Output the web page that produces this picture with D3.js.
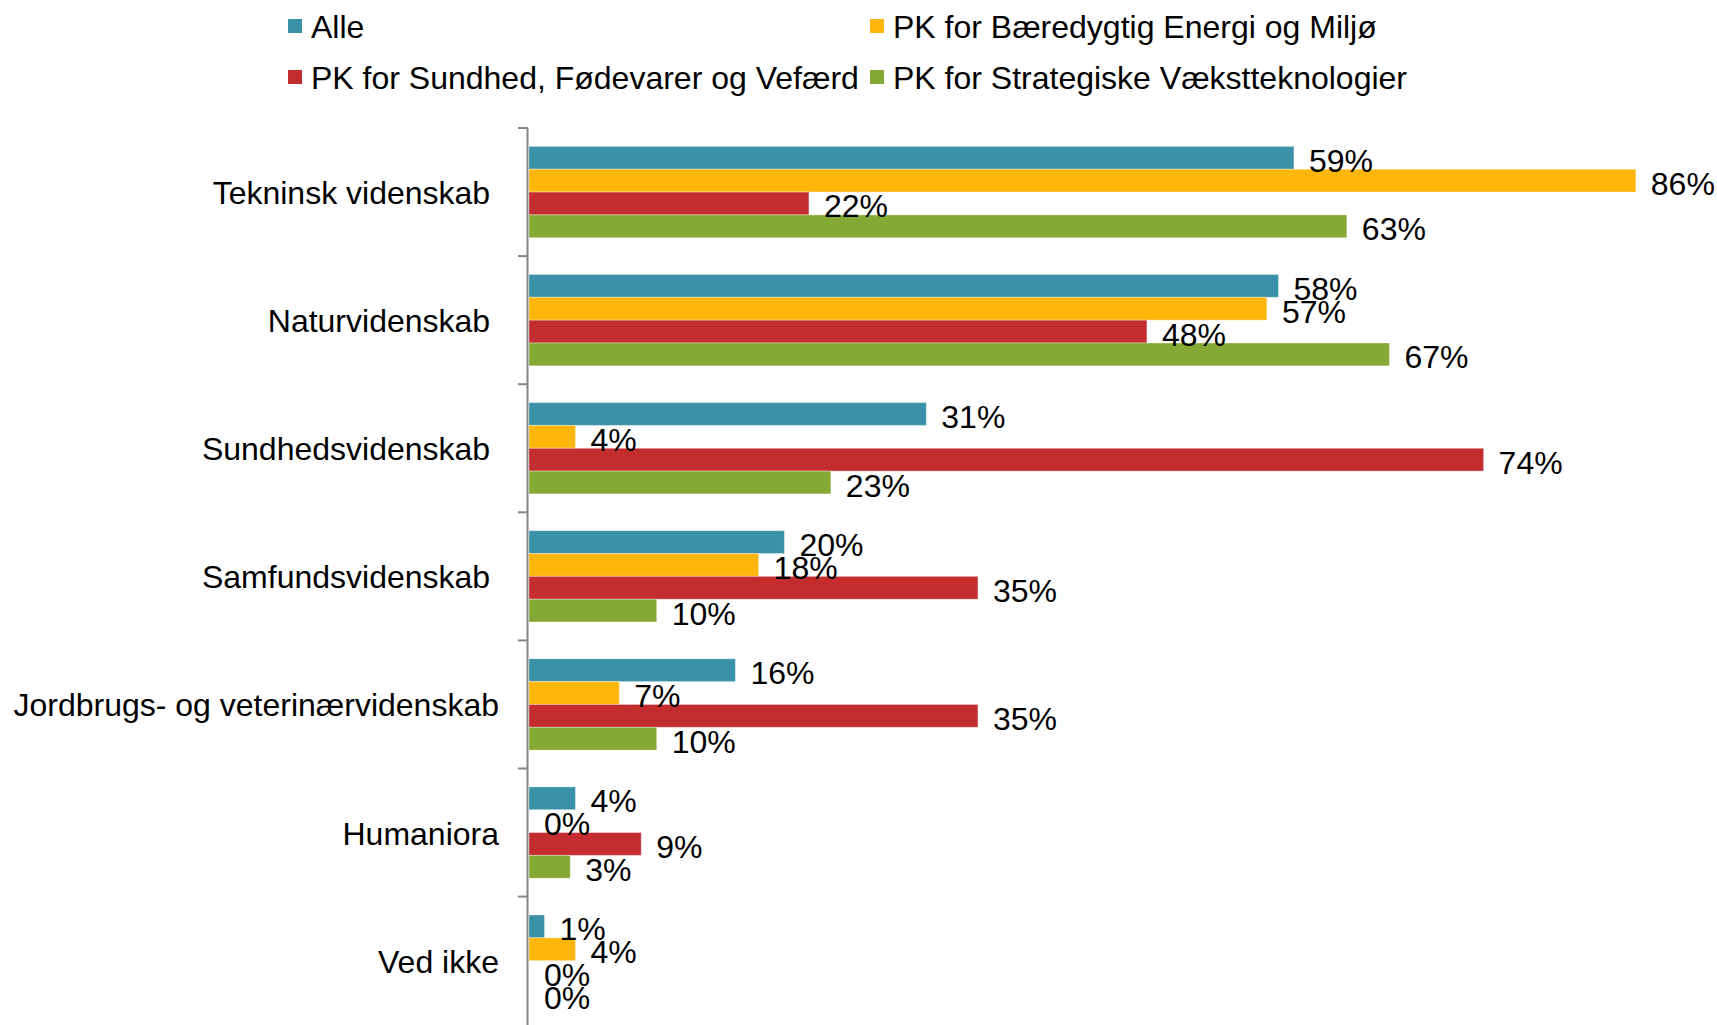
<!DOCTYPE html>
<html>
<head>
<meta charset="utf-8">
<script src="https://cdn.jsdelivr.net/npm/d3@7/dist/d3.min.js"></script>
<style>
  html, body { margin: 0; padding: 0; background: #fff; }
  svg { display: block; }
  text { font-family: "Liberation Sans", Arial, Helvetica, sans-serif; fill: #000; white-space: pre; }
</style>
</head>
<body>
<svg id="chart" width="1717" height="1025"></svg>
<script>
// Categories (trailing spaces as in the original labels)
const categories = [
  "Tekninsk videnskab ",
  "Naturvidenskab ",
  "Sundhedsvidenskab ",
  "Samfundsvidenskab ",
  "Jordbrugs- og veterinærvidenskab",
  "Humaniora",
  "Ved ikke"
];

const seriesNames = [
  "Alle",
  "PK for Bæredygtig Energi og Miljø",
  "PK for Sundhed, Fødevarer og Vefærd",
  "PK for Strategiske Vækstteknologier"
];

const seriesColors = ["#3A91A8", "#FFB60B", "#C42D2F", "#86A935"];

// Values in percent, one array per series, in category order
const alle        = [59.3, 58.1, 30.8, 19.8, 16.0, 3.6, 1.2];
const baeredygtig = [85.8, 57.2, 3.6, 17.8, 7.0, 0, 3.6];
const sundhed     = [21.7, 47.9, 74.0, 34.8, 34.8, 8.7, 0];
const strategisk  = [63.4, 66.7, 23.4, 9.9, 9.9, 3.2, 0];

const seriesValues = [alle, baeredygtig, sundhed, strategisk];

const svg = d3.select("#chart");
const FS = 32;

const x = d3.scaleLinear().domain([0, 100]).range([529, 1819]);
const y = d3.scaleBand().domain(categories).range([128, 1024.7]).padding(0);
const bw = y.bandwidth();
const yInner = d3.scaleBand().domain(seriesNames)
  .range([bw * 0.1435, bw * 0.8565]).padding(0);

const cells = [];
categories.forEach((c, ci) => {
  seriesNames.forEach((s, si) => {
    cells.push({cat: c, series: s, si, value: seriesValues[si][ci]});
  });
});

// Bars
svg.append("g").selectAll("rect")
  .data(cells)
  .join("rect")
  .attr("x", x(0))
  .attr("y", d => y(d.cat) + yInner(d.series))
  .attr("width", d => Math.max(0, x(d.value) - x(0)))
  .attr("height", yInner.bandwidth())
  .attr("fill", d => seriesColors[d.si])
  .attr("stroke", "#fff")
  .attr("stroke-opacity", 0.35)
  .attr("stroke-width", 1);

// Axis line and tick marks
const axisG = svg.append("g");
axisG.append("line")
  .attr("x1", 527.5).attr("x2", 527.5)
  .attr("y1", y.range()[0]).attr("y2", 1025)
  .attr("stroke", "#868686").attr("stroke-width", 2);
axisG.selectAll("line.tick")
  .data(categories)
  .join("line")
  .attr("class", "tick")
  .attr("x1", 518).attr("x2", 528)
  .attr("y1", d => y(d)).attr("y2", d => y(d))
  .attr("stroke", "#868686").attr("stroke-width", 2);

// Category labels
svg.append("g").selectAll("text")
  .data(categories)
  .join("text")
  .attr("x", 499)
  .attr("y", d => y(d) + bw / 2 + 1)
  .attr("text-anchor", "end")
  .attr("dominant-baseline", "central")
  .attr("font-size", FS)
  .attr("xml:space", "preserve")
  .text(d => d);

// Data labels (on top of bars)
svg.append("g").selectAll("text")
  .data(cells)
  .join("text")
  .attr("x", d => x(d.value) + 15)
  .attr("y", d => y(d.cat) + yInner(d.series) + yInner.bandwidth() / 2 + 3)
  .attr("dominant-baseline", "central")
  .attr("font-size", FS)
  .text(d => Math.round(d.value) + "%");

// Legend
const legendCols = [288, 870];
const legendRows = [26, 77];
const legend = svg.append("g").selectAll("g")
  .data(seriesNames)
  .join("g")
  .attr("transform", (d, i) => `translate(${legendCols[i % 2]},${legendRows[Math.floor(i / 2)]})`);
legend.append("rect")
  .attr("x", 0).attr("y", -7)
  .attr("width", 14).attr("height", 14)
  .attr("fill", (d, i) => seriesColors[i]);
legend.append("text")
  .attr("x", 23)
  .attr("y", 1)
  .attr("dominant-baseline", "central")
  .attr("font-size", FS)
  .text(d => d);
</script>
</body>
</html>
